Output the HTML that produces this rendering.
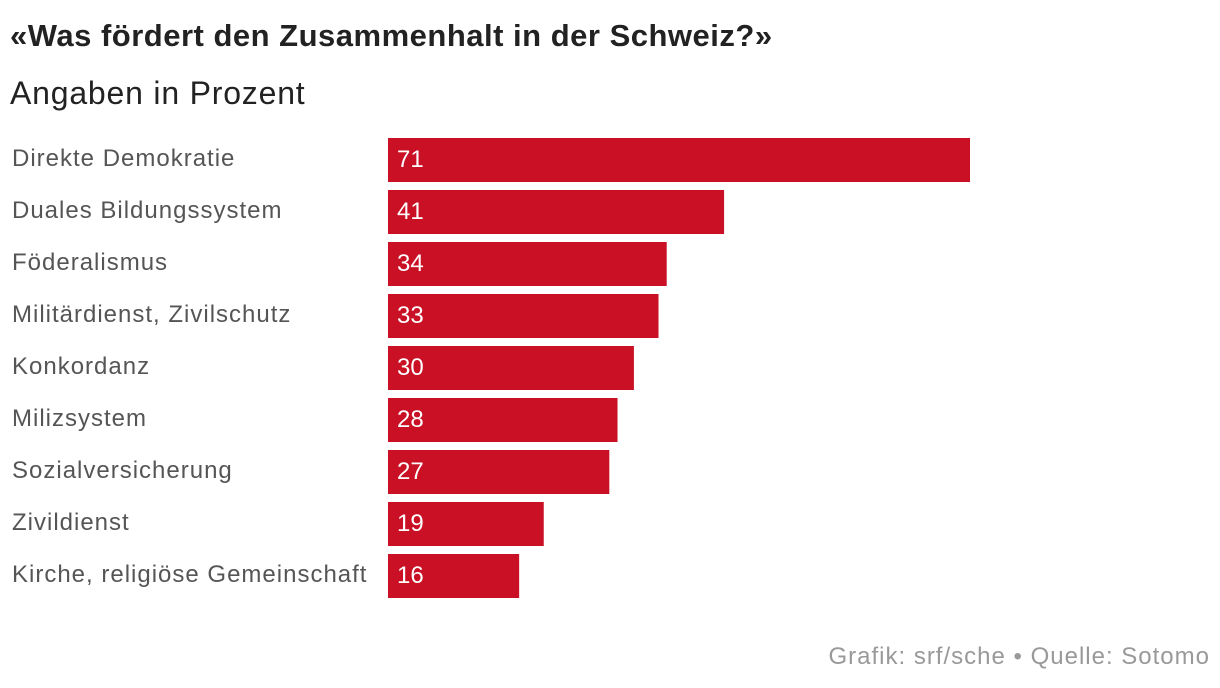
<!DOCTYPE html>
<html><head><meta charset="utf-8"><style>
body{margin:0;width:1220px;height:688px;background:#fff;font-family:"Liberation Sans",sans-serif;overflow:hidden;position:relative}
.t{position:absolute;white-space:nowrap}
</style></head><body>
<div class="t" style="left:10px;top:18px;font-size:31px;font-weight:bold;color:#222;letter-spacing:0.5px">«Was fördert den Zusammenhalt in der Schweiz?»</div>
<div class="t" style="left:10px;top:75px;font-size:32px;color:#222;letter-spacing:0.8px">Angaben in Prozent</div>
<svg id="c" width="1220" height="688" style="position:absolute;left:0;top:0"></svg>
<div class="t" style="right:10px;top:643px;font-size:24px;color:#999;letter-spacing:1px">Grafik: srf/sche • Quelle: Sotomo</div>
<script>
const categories=["Direkte Demokratie","Duales Bildungssystem","Föderalismus","Militärdienst, Zivilschutz","Konkordanz","Milizsystem","Sozialversicherung","Zivildienst","Kirche, religiöse Gemeinschaft"];
const values=[71,41,34,33,30,28,27,19,16];
const x0=388,scale=582/71,top0=138,step=52,bh=44;
const xs=v=>v*scale;
const ys=i=>top0+i*step;
const svg=document.getElementById('c');
const ns='http://www.w3.org/2000/svg';
categories.forEach((c,i)=>{
 const l=document.createElementNS(ns,'text');
 
 
 l.setAttribute('x',12);l.setAttribute('y',ys(i)+28);
 l.setAttribute('font-size','24');l.setAttribute('fill','#555');
 l.setAttribute('letter-spacing','1');
 l.textContent=c;svg.appendChild(l);
 const r=document.createElementNS(ns,'rect');
 
 
 r.setAttribute('x',x0);r.setAttribute('y',ys(i));
 r.setAttribute('width',xs(values[i]));r.setAttribute('height',bh);
 r.setAttribute('fill','#c91024');svg.appendChild(r);
 const v=document.createElementNS(ns,'text');
 
 
 v.setAttribute('x',x0+9);v.setAttribute('y',ys(i)+29);
 v.setAttribute('font-size','24');v.setAttribute('fill','#fff');
 v.textContent=values[i];svg.appendChild(v);
});
</script>
</body></html>
